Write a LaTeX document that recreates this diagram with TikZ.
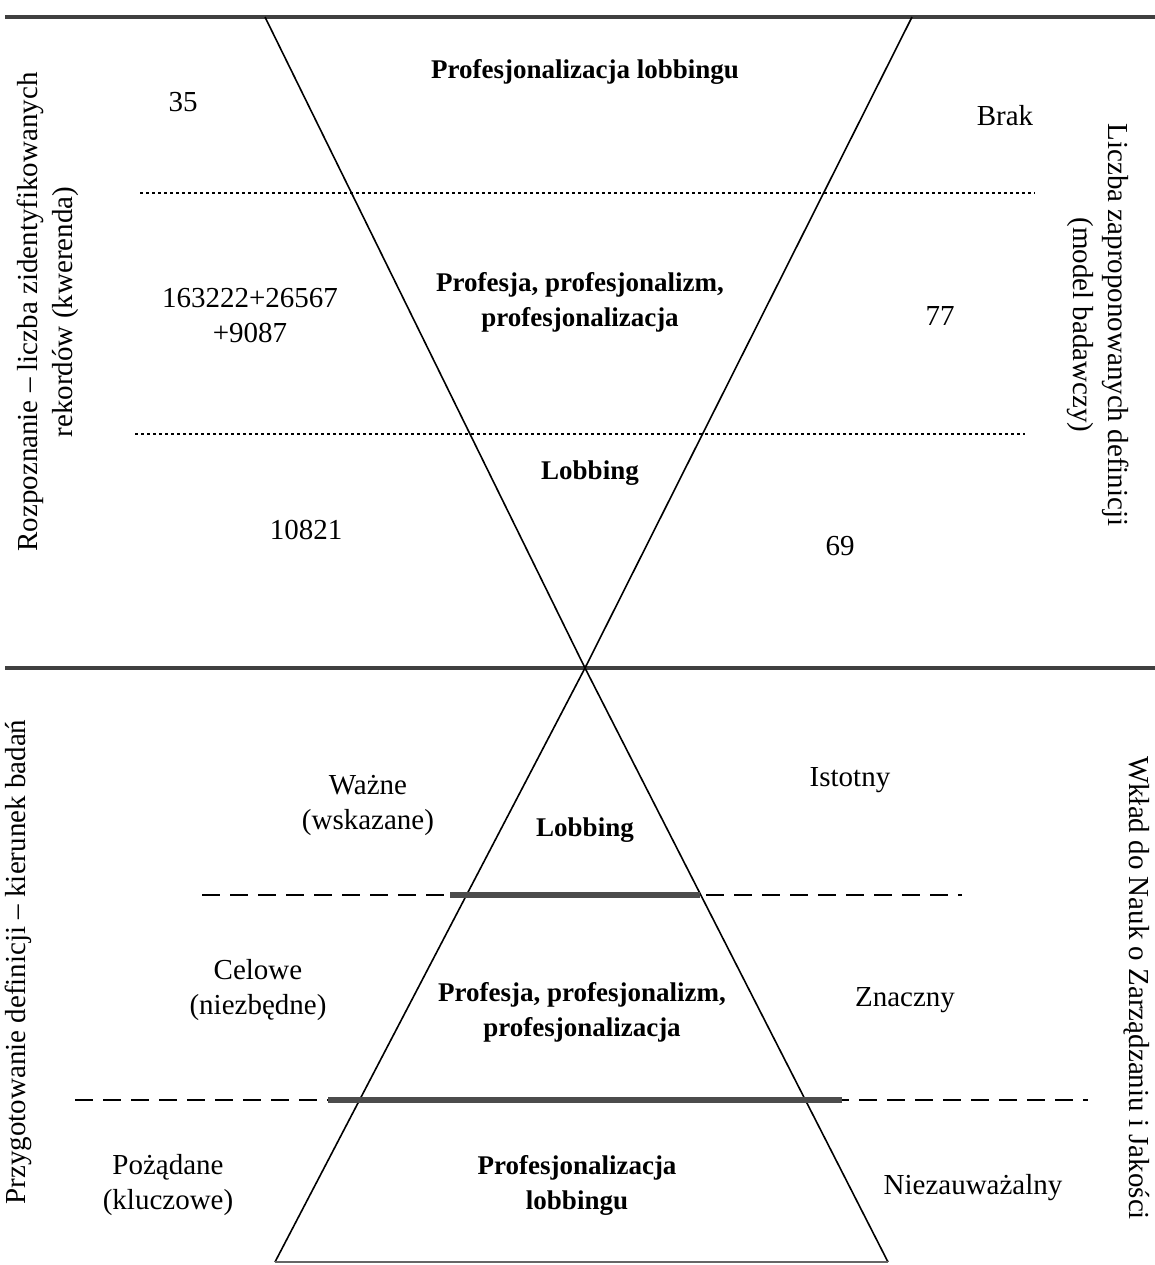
\documentclass[tikz,border=0pt]{standalone}
\usepackage{fontspec}
\setmainfont{Liberation Serif}
\begin{document}
\begin{tikzpicture}[x=0.5pt,y=-0.5pt,
  txt/.style={font=\fontsize{14.5pt}{17.5pt}\selectfont, align=center, inner sep=0pt},
  btxt/.style={font=\fontsize{13.5pt}{17.5pt}\selectfont\bfseries, align=center, inner sep=0pt},
  heavy/.style={line width=2pt, draw=black!75},
  edge/.style={line width=0.8pt, draw=black},
  dotline/.style={line width=0.6pt, dash pattern=on 1.5pt off 1.5pt},
  dashline/.style={line width=1.4pt, dash pattern=on 9pt off 5pt},
  band/.style={line width=2.6pt, draw=black!70}]
\useasboundingbox (0,0) rectangle (1155,1265);
% horizontal heavy lines
\coordinate (t1) at (5,17); \coordinate (t2) at (1155,17);
\coordinate (m1) at (5,668); \coordinate (m2) at (1155,668);
\draw[heavy] (t1) -- (t2);
\draw[heavy] (m1) -- (m2);
% upper inverted triangle
\coordinate (ua) at (265,17); \coordinate (ub) at (912,17); \coordinate (x) at (585,668);
\draw[edge] (ua) -- (x) -- (ub);
% lower triangle
\coordinate (la) at (275,1262); \coordinate (lb) at (888,1262);
\draw[edge] (x) -- (la);
\draw[edge] (x) -- (lb);
\draw[line width=0.6pt, draw=black!60] (la) -- (lb);
% dotted lines
\coordinate (d1a) at (140,193); \coordinate (d1b) at (1035,193);
\coordinate (d2a) at (135,434); \coordinate (d2b) at (1025,434);
\draw[dotline] (d1a) -- (d1b);
\draw[dotline] (d2a) -- (d2b);
% dashed lines with bands
\coordinate (e1a) at (202,895); \coordinate (e1b) at (962,895);
\coordinate (e2a) at (75,1100); \coordinate (e2b) at (1088,1100);
\draw[dashline] (e1a) -- (e1b);
\draw[dashline] (e2a) -- (e2b);
\coordinate (b1a) at (450,895); \coordinate (b1b) at (700,895);
\coordinate (b2a) at (328,1100); \coordinate (b2b) at (842,1100);
\draw[band] (b1a) -- (b1b);
\draw[band] (b2a) -- (b2b);
% texts upper
\node[btxt] (u1) at (585,72) {Profesjonalizacja lobbingu};
\node[txt] (n35) at (183,102) {35};
\node[txt] (brak) at (1005,116) {Brak};
\node[btxt] (u2) at (580,302) {Profesja, profesjonalizm,\\profesjonalizacja};
\node[txt] (n1) at (250,316) {163222+26567\\+9087};
\node[txt] (n77) at (940,316) {77};
\node[btxt] (u3) at (590,473) {Lobbing};
\node[txt] (n10821) at (306,530) {10821};
\node[txt] (n69) at (840,546) {69};
% texts lower
\node[txt] (w1) at (368,805) {Ważne\\(wskazane)};
\node[btxt] (l1) at (585,830) {Lobbing};
\node[txt] (ist) at (850,780) {Istotny};
\node[txt] (w2) at (258,990) {Celowe\\(niezbędne)};
\node[btxt] (l2) at (582,1012) {Profesja, profesjonalizm,\\profesjonalizacja};
\node[txt] (zn) at (905,1000) {Znaczny};
\node[txt] (w3) at (168,1185) {Pożądane\\(kluczowe)};
\node[btxt] (l3) at (577,1185) {Profesjonalizacja\\lobbingu};
\node[txt] (niez) at (973,1188) {Niezauważalny};
% rotated side labels
\node[txt, rotate=90] (sl1) at (48,312) {Rozpoznanie -- liczba zidentyfikowanych\\rekordów (kwerenda)};
\node[txt, rotate=-90] (sr1) at (1098,325) {Liczba zaproponowanych definicji\\(model badawczy)};
\node[txt, rotate=90] (sl2) at (18,962) {Przygotowanie definicji -- kierunek badań};
\node[txt, rotate=-90] (sr2) at (1137,988) {Wkład do Nauk o Zarządzaniu i Jakości};
\end{tikzpicture}
\end{document}
